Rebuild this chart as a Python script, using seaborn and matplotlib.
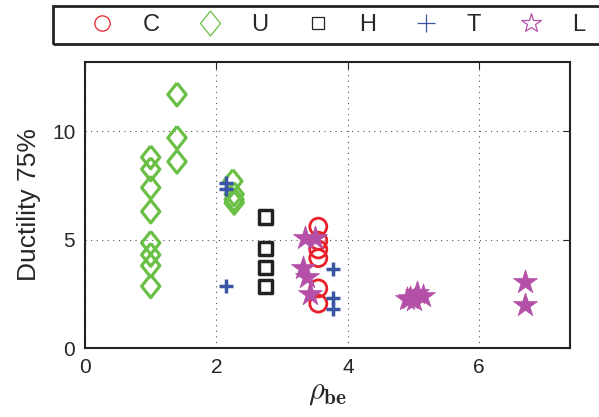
import numpy as np
import matplotlib
matplotlib.use("Agg")
import matplotlib.pyplot as plt
import seaborn as sns
from matplotlib.lines import Line2D
from matplotlib.patches import Rectangle

# data
c_x = [3.55, 3.55, 3.55, 3.55, 3.55, 3.55]
c_y = [5.6, 4.95, 4.55, 4.15, 2.75, 2.05]

u_x = [1.0, 1.0, 1.0, 1.0, 1.0, 1.0, 1.0, 1.0, 1.4, 1.4, 1.4, 2.25, 2.27, 2.27, 2.27]
u_y = [8.8, 8.25, 7.4, 6.3, 4.85, 4.3, 3.8, 2.85, 11.7, 9.7, 8.6, 7.7, 7.1, 6.85, 6.7]

h_x = [2.75, 2.75, 2.75, 2.75]
h_y = [6.05, 4.6, 3.7, 2.85]

t_x = [2.15, 2.15, 2.15, 3.77, 3.77, 3.77]
t_y = [7.6, 7.35, 2.85, 3.65, 2.3, 1.8]

l_x = [3.35, 3.5, 3.32, 3.38, 3.43, 4.9, 4.95, 5.0, 5.05, 5.15, 6.7, 6.7]
l_y = [5.07, 5.1, 3.7, 3.3, 2.5, 2.25, 2.3, 2.2, 2.55, 2.4, 3.05, 2.0]

labels = ["C", "U", "H", "T", "L"]
colors = ["#e8202a", "#6abf45", "#222222", "#3b55a5", "#b550a8"]

# matlab-ish diamond, wider than mpl's "d"
diamond = [(0, 1), (0.8, 0), (0, -1), (-0.8, 0), (0, 1)]

sns.set_style("white")
plt.rcParams["font.family"] = ["Liberation Sans", "DejaVu Sans"]
plt.rcParams["mathtext.fontset"] = "cm"

fig = plt.figure(figsize=(5.99, 4.17), dpi=100)
ax = fig.add_axes([85 / 599, 69 / 417, 485 / 599, 286 / 417])

sns.scatterplot(x=c_x, y=c_y, ax=ax, marker="o", s=150, color=colors[0],
                facecolor="none", edgecolor=colors[0], linewidth=2, zorder=3)
sns.scatterplot(x=u_x, y=u_y, ax=ax, marker=diamond, s=270, color=colors[1],
                facecolor="none", edgecolor=colors[1], linewidth=2.3, zorder=3)
sns.scatterplot(x=h_x, y=h_y, ax=ax, marker="s", s=90, color=colors[2],
                facecolor="none", edgecolor=colors[2], linewidth=2.5, zorder=3)
sns.scatterplot(x=t_x, y=t_y, ax=ax, marker="+", s=110, color=colors[3],
                edgecolor=colors[3], linewidth=2.5, zorder=3)
sns.scatterplot(x=l_x, y=l_y, ax=ax, marker="*", s=330, color=colors[4],
                edgecolor=colors[4], linewidth=0.5, zorder=3)

ax.set_xlim(0, 7.38)
ax.set_ylim(0, 13.2)
ax.set_xticks([0, 2, 4, 6])
ax.set_yticks([0, 5, 10])
ax.tick_params(direction="in", top=True, right=True, labelsize=15, length=5, pad=7)
ax.grid(True, color="#555555", linestyle=(0, (1, 4)), linewidth=0.8)
for sp in ax.spines.values():
    sp.set_color("#222222")
    sp.set_linewidth(1.5)

ax.set_xlabel(r"$\rho_{\mathbf{be}}$", fontsize=22, labelpad=0)
ax.set_ylabel("Ductility 75%", fontsize=19, labelpad=8)

# legend box runs off the right edge like the reference
fig.patches.append(Rectangle((53 / 599, 1 - 44 / 417), 560 / 599, 38 / 417,
                             transform=fig.transFigure, fill=False,
                             edgecolor="#222222", linewidth=2))
markers = ["o", diamond, "s", "+", "*"]
sizes = [11, 18, 8, 13, 15]
handles = [Line2D([0], [0], marker=m, color=col, linestyle="none",
                  markerfacecolor="none", markersize=ms, markeredgewidth=0.9)
           for m, col, ms in zip(markers, colors, sizes)]
leg = fig.legend(handles, labels, ncol=5, loc="center left",
                 bbox_to_anchor=(90 / 599, 1 - 25 / 417),
                 fontsize=17, frameon=False, borderpad=0, borderaxespad=0,
                 handlelength=1.0, handletextpad=1.25, columnspacing=1.6)

fig.savefig("out.png", dpi=100)
